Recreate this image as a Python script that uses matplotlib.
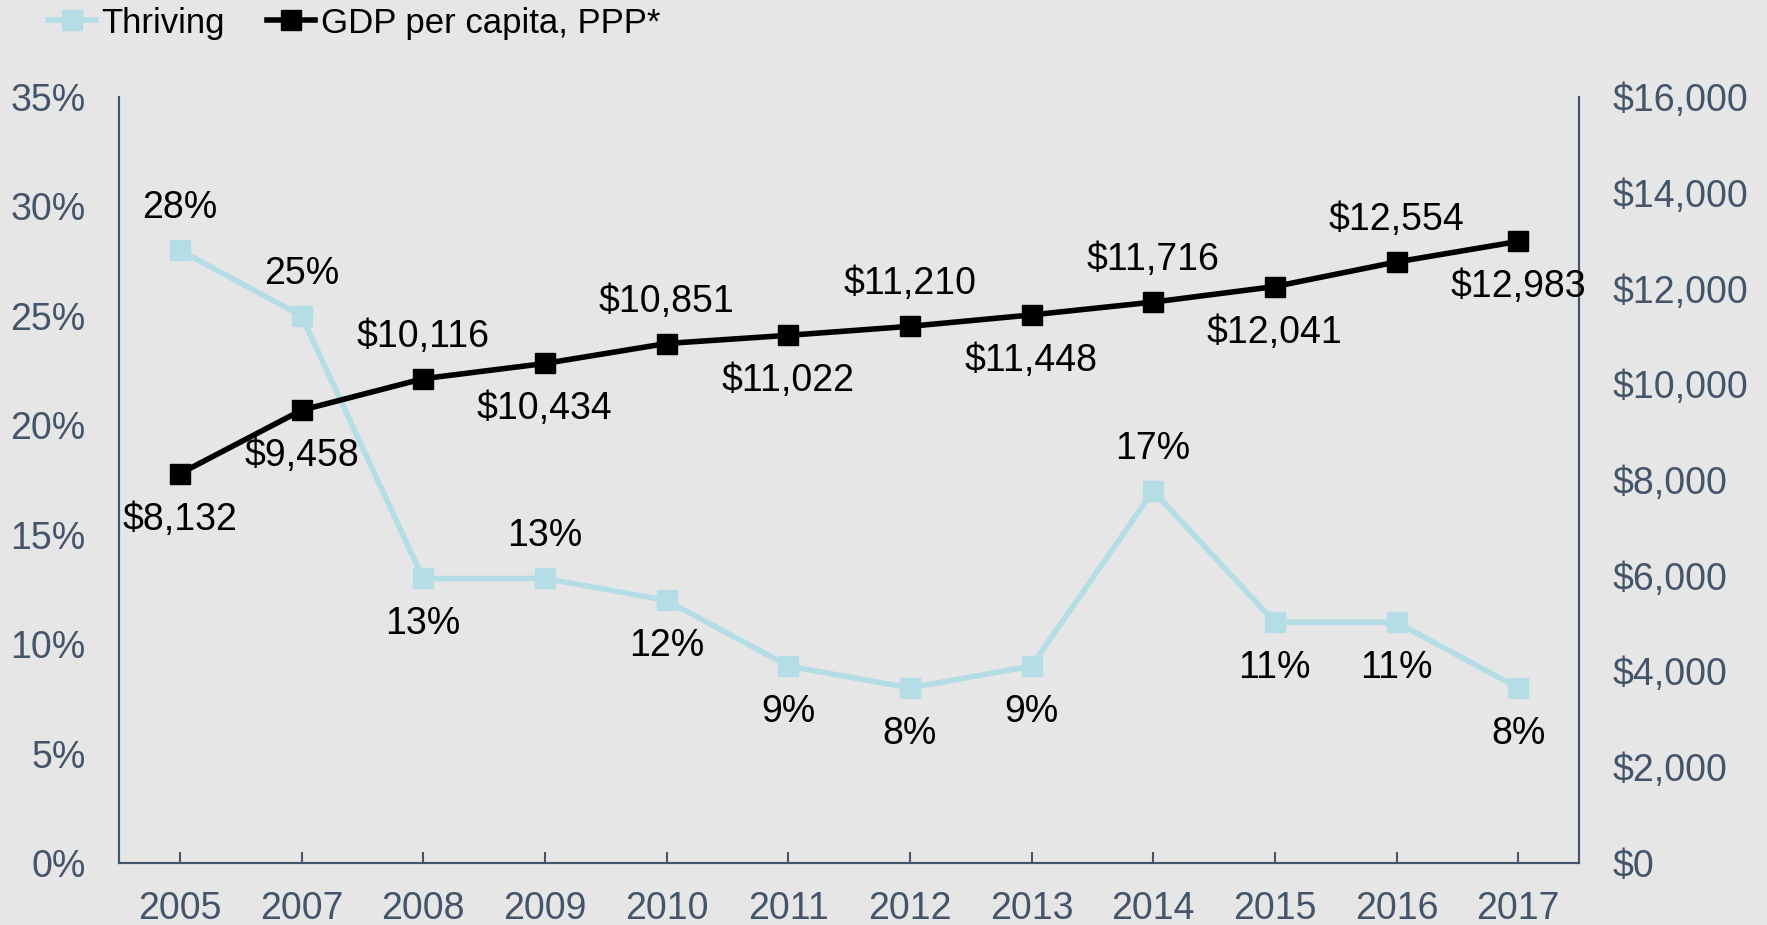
import matplotlib
matplotlib.use("Agg")
import matplotlib.pyplot as plt
from matplotlib.ticker import FuncFormatter
from matplotlib.lines import Line2D

years = ["2005", "2007", "2008", "2009", "2010", "2011", "2012", "2013", "2014", "2015", "2016", "2017"]
thriving = [28, 25, 13, 13, 12, 9, 8, 9, 17, 11, 11, 8]
gdp = [8132, 9458, 10116, 10434, 10851, 11022, 11210, 11448, 11716, 12041, 12554, 12983]
thriving_pos = ["above", "above", "below", "above", "below", "below", "below", "below", "above", "below", "below", "below"]
gdp_pos = ["below", "below", "above", "below", "above", "below", "above", "below", "above", "below", "above", "below"]

plt.rcParams['font.family'] = ['Liberation Sans', 'DejaVu Sans']
BG = "#E6E6E6"
AXC = "#44546A"
LBLUE = "#B4DDE6"
FS = 27

fig = plt.figure(figsize=(17.67, 9.25), dpi=100, facecolor=BG)
ax = fig.add_axes([119/1767, 1-863/925, (1579-119)/1767, (863-97)/925])
ax.set_facecolor(BG)
ax2 = ax.twinx()

x = list(range(len(years)))
ax.plot(x, thriving, color=LBLUE, lw=4.0, marker='s', ms=14, mec=LBLUE, mfc=LBLUE, zorder=3)
ax2.plot(x, gdp, color='black', lw=4.0, marker='s', ms=14, mec='black', mfc='black', zorder=3)

ax.set_xlim(-0.5, len(years) - 0.5)
ax.set_ylim(0, 35)
ax2.set_ylim(0, 16000)
ax.set_yticks(range(0, 36, 5))
ax.yaxis.set_major_formatter(FuncFormatter(lambda v, p: f"{int(v)}%"))
ax2.set_yticks(range(0, 16001, 2000))
ax2.yaxis.set_major_formatter(FuncFormatter(lambda v, p: f"${int(v):,}"))
ax.set_xticks(x)
ax.set_xticklabels(years)

for a in (ax, ax2):
    a.spines['top'].set_visible(False)
    for s in ('left', 'right', 'bottom'):
        a.spines[s].set_color(AXC)
        a.spines[s].set_linewidth(1.5)
ax.tick_params(axis='x', direction='in', length=8, width=1.5, color=AXC, labelcolor=AXC, labelsize=FS, pad=20)
ax.tick_params(axis='y', length=0, labelcolor=AXC, labelsize=FS, pad=24)
ax2.tick_params(axis='y', length=0, labelcolor=AXC, labelsize=FS, pad=24)

for i, (v, p) in enumerate(zip(thriving, thriving_pos)):
    dy = 42 if p == "above" else -46
    ax.annotate(f"{v}%", (i, v), xytext=(0, dy), textcoords='offset pixels',
                ha='center', va='center', fontsize=FS, color='black', zorder=5)
for i, (v, p) in enumerate(zip(gdp, gdp_pos)):
    dy = 42 if p == "above" else -46
    ax2.annotate(f"${v:,}", (i, v), xytext=(0, dy), textcoords='offset pixels',
                 ha='center', va='center', fontsize=FS, color='black', zorder=5)

handles = [Line2D([], [], color=LBLUE, lw=4.0, marker='s', ms=14),
           Line2D([], [], color='black', lw=4.0, marker='s', ms=14)]
fig.legend(handles, ["Thriving", "GDP per capita, PPP*"], loc='center left',
           bbox_to_anchor=(0.027, 1 - 23/925), ncol=2, frameon=False, fontsize=25,
           handlelength=1.4, handletextpad=0.15, columnspacing=1.2,
           borderaxespad=0, borderpad=0)

fig.savefig("out.png", dpi=100, facecolor=BG)
